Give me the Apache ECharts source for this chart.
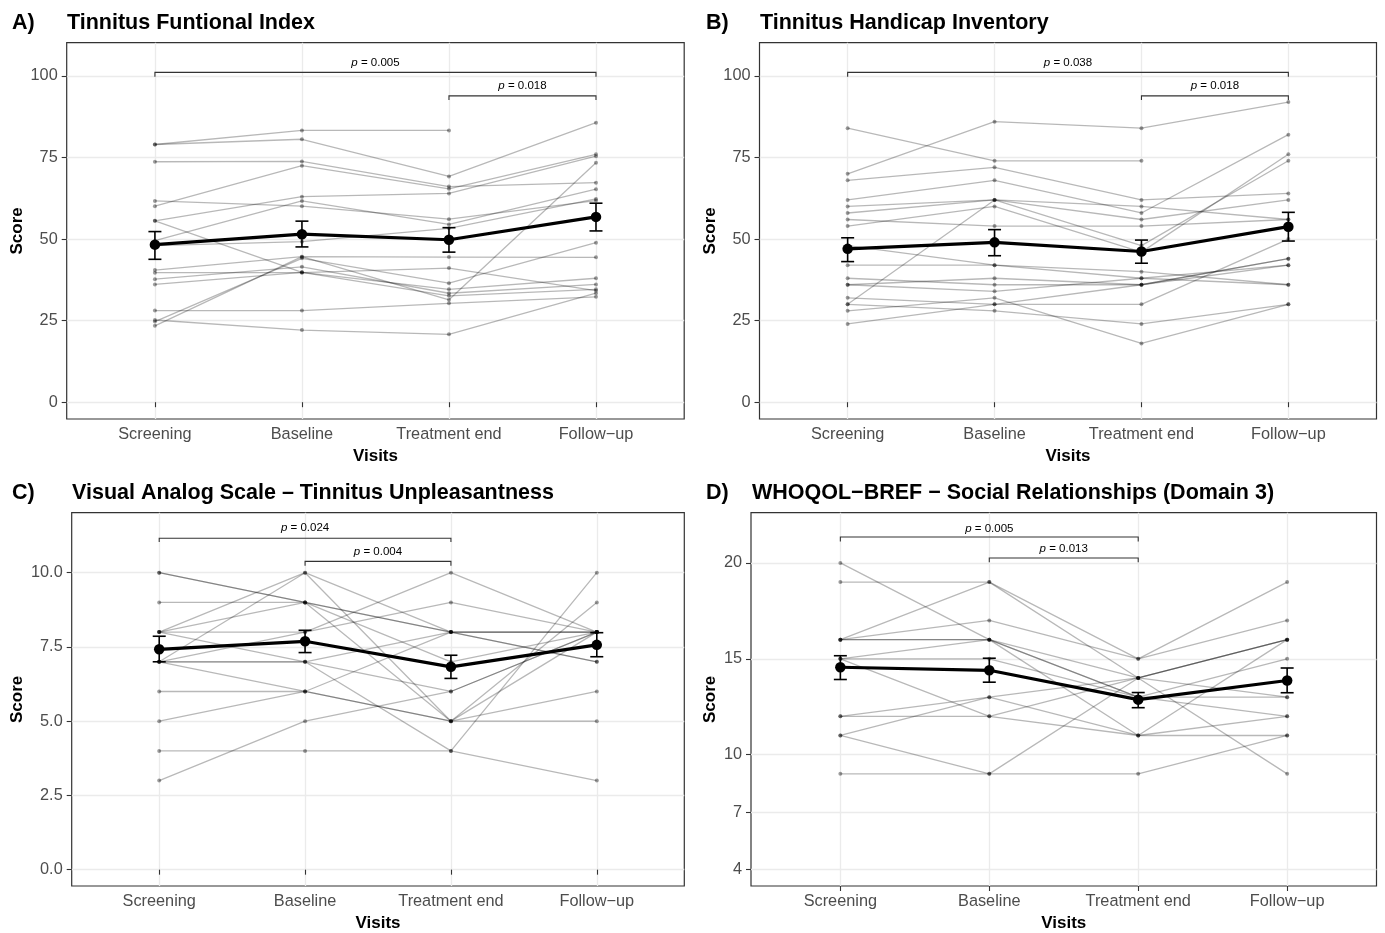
<!DOCTYPE html>
<html>
<head>
<meta charset="utf-8">
<title>Tinnitus outcomes by visit</title>
<script src="https://cdn.jsdelivr.net/npm/echarts@6/dist/echarts.min.js"></script>
<style>
  html, body { margin: 0; padding: 0; background: #fff; }
  #chart { width: 1385px; height: 933px; }
</style>
</head>
<body>
<div id="chart"></div>
<script>
const visits = ['Screening', 'Baseline', 'Treatment end', 'Follow\u2212up'];

// A) Tinnitus Functional Index - one row per participant
const tfiSubjects = [
    [79.0, 83.3, 83.3, null],
    [79.0, 80.6, 69.2, 85.7],
    [73.7, 73.8, 66.1, 67.3],
    [60.1, 72.5, 65.4, 76.0],
    [61.7, 60.1, 56.1, 61.8],
    [55.6, 63.0, 64.0, 75.4],
    [55.6, 39.8, 34.6, 38.0],
    [49.5, 61.7, 54.5, 65.3],
    [48.0, 49.2, 53.3, 62.3],
    [40.5, 44.6, 44.5, 44.4],
    [39.7, 39.7, 41.1, 34.2],
    [37.7, 41.5, 33.4, 36.1],
    [36.1, 39.8, 32.6, 34.6],
    [28.1, 28.1, 30.3, 32.3],
    [24.7, 44.1, 36.5, 48.9],
    [23.4, 44.6, 31.4, 73.4],
    [25.2, 22.1, 20.8, 33.4]
];
const tfiMean = [48.3, 51.5, 49.8, 56.8];
const tfiLow = [43.8, 47.6, 46.0, 52.5];
const tfiHigh = [52.3, 55.5, 53.5, 61.0];
const tfiTicks = [0, 25, 50, 75, 100];
const tfiPairs = [[1, 4, '0.005'], [3, 4, '0.018']];

// B) Tinnitus Handicap Inventory
const thiSubjects = [
    [84, 74, 74, null],
    [70, 86, 84, 92],
    [68, 72, 62, 64],
    [62, 68, 58, 82],
    [60, 62, 56, 62],
    [58, 62, 60, 56],
    [56, 54, 54, 56],
    [54, 60, 46, 76],
    [30, 62, 48, 74],
    [48, 42, 38, 36],
    [42, 42, 40, 36],
    [38, 36, 36, 42],
    [36, 38, 36, 44],
    [36, 34, 38, 42],
    [32, 30, 30, 50],
    [30, 28, 24, 30],
    [28, 32, 18, 30],
    [24, 30, 36, 44]
];
const thiMean = [47.0, 49.0, 46.2, 53.8];
const thiLow = [43.1, 44.9, 42.6, 49.4];
const thiHigh = [50.4, 52.9, 49.7, 58.2];
const thiTicks = [0, 25, 50, 75, 100];
const thiPairs = [[1, 4, '0.038'], [3, 4, '0.018']];

// C) Visual Analog Scale - Tinnitus Unpleasantness
const vasSubjects = [
    [10, 9, 5, 8],
    [10, 9, 8, 7],
    [9, 9, 8, 8],
    [8, 10, 8, 7],
    [8, 9, 7, 8],
    [8, 8, 10, 8],
    [7, 7, 6, 8],
    [7, 8, 9, 8],
    [7, 6, 5, 6],
    [7, 7, 8, 8],
    [6, 6, 5, 5],
    [5, 6, 8, 8],
    [4, 4, 4, 3],
    [3, 5, 6, 8],
    [7, 10, 5, 9],
    [8, 7, 4, 10]
];
const vasMean = [7.42, 7.69, 6.83, 7.57];
const vasLow = [7.00, 7.31, 6.44, 7.17];
const vasHigh = [7.86, 8.06, 7.22, 7.98];
const vasTicks = [0, 2.5, 5, 7.5, 10];
const vasPairs = [[1, 3, '0.024'], [2, 3, '0.004']];

// D) WHOQOL-BREF - Social Relationships (Domain 3)
const whoSubjects = [
    [20, 16, 13, 12],
    [19, 19, 15, 17],
    [16, 19, 14, 16],
    [16, 17, 15, 19],
    [16, 16, 14, 16],
    [16, 16, 11, 16],
    [15, 15, 13, 15],
    [15, 12, 14, 13],
    [12, 13, 11, 12],
    [12, 12, 11, 11],
    [11, 13, 14, 16],
    [11, 9, 9, 11],
    [9, 9, 14, 9],
    [15, 16, 13, 13]
];
const whoMean = [14.56, 14.40, 12.87, 13.87];
const whoLow = [13.92, 13.78, 12.45, 13.23];
const whoHigh = [15.16, 15.03, 13.24, 14.52];
const whoTicks = [4, 7, 10, 15, 20];
const whoPairs = [[1, 3, '0.005'], [2, 3, '0.013']];

const FONT = '"Liberation Sans", Arial, Helvetica, sans-serif';

// layout of the four facets (pixel boxes, axis ranges, bracket heights in data units)
const panels = [
    {
        tag: 'A)', title: 'Tinnitus Funtional Index',
        subjects: tfiSubjects, mean: tfiMean, low: tfiLow, high: tfiHigh, ticks: tfiTicks, pairs: tfiPairs,
        grid: { left: 66.7, top: 42.7, width: 617.5, height: 376.3 },
        yMin: -5.15, yMax: 110.2, digits: 0, nameGap: 41,
        levels: [[101.1, 99.8, 104.0], [93.9, 92.6, 96.9]],
        tagX: 12, titleX: 67, titleY: 12
    },
    {
        tag: 'B)', title: 'Tinnitus Handicap Inventory',
        subjects: thiSubjects, mean: thiMean, low: thiLow, high: thiHigh, ticks: thiTicks, pairs: thiPairs,
        grid: { left: 759.5, top: 42.7, width: 617, height: 376.3 },
        yMin: -5.15, yMax: 110.2, digits: 0, nameGap: 41,
        levels: [[101.1, 99.8, 104.0], [93.9, 92.6, 96.9]],
        tagX: 706, titleX: 760, titleY: 12
    },
    {
        tag: 'C)', title: 'Visual Analog Scale \u2013 Tinnitus Unpleasantness',
        subjects: vasSubjects, mean: vasMean, low: vasLow, high: vasHigh, ticks: vasTicks, pairs: vasPairs,
        grid: { left: 71.7, top: 512.7, width: 612.6, height: 375.8 },
        yMin: -0.55, yMax: 12.02, digits: 1, nameGap: 46,
        levels: [[11.16, 11.03, 11.5], [10.38, 10.23, 10.69]],
        tagX: 12, titleX: 72, titleY: 482
    },
    {
        tag: 'D)', title: 'WHOQOL\u2212BREF \u2212 Social Relationships (Domain 3)',
        subjects: whoSubjects, mean: whoMean, low: whoLow, high: whoHigh, ticks: whoTicks, pairs: whoPairs,
        grid: { left: 751, top: 512.7, width: 625.5, height: 375.8 },
        yMin: 3.15, yMax: 22.62, digits: 0, nameGap: 32,
        levels: [[21.35, 21.12, 21.8], [20.26, 20.03, 20.73]],
        tagX: 706, titleX: 752, titleY: 482
    }
];

function errorBarItem(params, api) {
    const x = api.value(0);
    const top = api.coord([x, api.value(2)]);
    const bot = api.coord([x, api.value(1)]);
    const half = 6.5;
    const style = { stroke: '#000', lineWidth: 1.6 };
    return {
        type: 'group',
        children: [
            { type: 'line', shape: { x1: top[0], y1: top[1], x2: bot[0], y2: bot[1] }, style },
            { type: 'line', shape: { x1: top[0] - half, y1: top[1], x2: top[0] + half, y2: top[1] }, style },
            { type: 'line', shape: { x1: bot[0] - half, y1: bot[1], x2: bot[0] + half, y2: bot[1] }, style }
        ]
    };
}

function makeBracketItem(pairs) {
    return function (params, api) {
        const x1 = api.value(0), x2 = api.value(1);
        const a = api.coord([x1, api.value(3)]);
        const b = api.coord([x1, api.value(2)]);
        const c = api.coord([x2, api.value(2)]);
        const d = api.coord([x2, api.value(3)]);
        const t = api.coord([(x1 + x2) / 2, api.value(4)]);
        return {
            type: 'group',
            children: [
                {
                    type: 'polyline',
                    shape: { points: [a, b, c, d] },
                    style: { stroke: '#333', lineWidth: 1.1, fill: 'none' }
                },
                {
                    type: 'text',
                    x: t[0],
                    y: t[1],
                    style: {
                        text: '{i|p} = ' + pairs[params.dataIndex][2],
                        align: 'center',
                        verticalAlign: 'middle',
                        fontFamily: FONT,
                        fontSize: 11.5,
                        fill: '#000',
                        rich: { i: { fontStyle: 'italic', fontFamily: FONT, fontSize: 11.5, fill: '#000' } }
                    }
                }
            ]
        };
    };
}

const grids = [];
const xAxes = [];
const yAxes = [];
const titles = [];
const series = [];

panels.forEach((p, i) => {
    grids.push({
        left: p.grid.left, top: p.grid.top, width: p.grid.width, height: p.grid.height,
        show: true, borderColor: '#333', borderWidth: 1.2, backgroundColor: 'transparent'
    });

    xAxes.push({
        type: 'value', gridIndex: i, min: 0.4, max: 4.6,
        axisLine: { show: false },
        axisTick: { show: true, customValues: [1, 2, 3, 4], length: 5, lineStyle: { color: '#333', width: 1.1 } },
        axisLabel: {
            customValues: [1, 2, 3, 4], margin: 8,
            formatter: v => visits[Math.round(v) - 1],
            color: '#4d4d4d', fontSize: 16.3, fontFamily: FONT
        },
        splitLine: { show: true, lineStyle: { color: '#ebebeb', width: 1.3 } },
        name: 'Visits', nameLocation: 'middle', nameGap: 29,
        nameTextStyle: { fontFamily: FONT, fontWeight: 'bold', fontSize: 17, color: '#000' }
    });

    yAxes.push({
        type: 'value', gridIndex: i, min: p.yMin, max: p.yMax,
        axisLine: { show: false },
        axisTick: { show: true, customValues: p.ticks, length: 5, lineStyle: { color: '#333', width: 1.1 } },
        axisLabel: {
            customValues: p.ticks, margin: 9,
            formatter: v => v.toFixed(p.digits),
            color: '#4d4d4d', fontSize: 16.3, fontFamily: FONT
        },
        splitLine: { show: true, lineStyle: { color: '#ebebeb', width: 1.3 } },
        name: 'Score', nameLocation: 'middle', nameGap: p.nameGap,
        nameTextStyle: { fontFamily: FONT, fontWeight: 'bold', fontSize: 17, color: '#000' }
    });

    const titleStyle = { fontFamily: FONT, fontWeight: 'bold', fontSize: 21.5, color: '#000' };
    titles.push({ text: p.tag, left: p.tagX, top: p.titleY, padding: 0, textStyle: titleStyle });
    titles.push({ text: p.title, left: p.titleX, top: p.titleY, padding: 0, textStyle: titleStyle });

    // individual participants
    p.subjects.forEach(row => {
        series.push({
            type: 'line', xAxisIndex: i, yAxisIndex: i,
            data: row.map((v, j) => [j + 1, v == null ? '-' : v]),
            symbol: 'circle', symbolSize: 4, showSymbol: true,
            lineStyle: { color: 'rgba(0,0,0,0.28)', width: 1.3 },
            itemStyle: { color: 'rgba(0,0,0,0.38)' },
            silent: true, z: 2
        });
    });

    // group mean
    series.push({
        type: 'line', xAxisIndex: i, yAxisIndex: i,
        data: p.mean.map((v, j) => [j + 1, v]),
        symbol: 'circle', symbolSize: 10.5,
        lineStyle: { color: '#000', width: 3.2 },
        itemStyle: { color: '#000' },
        silent: true, z: 5
    });

    series.push({
        type: 'custom', xAxisIndex: i, yAxisIndex: i,
        data: p.mean.map((v, j) => [j + 1, p.low[j], p.high[j]]),
        encode: { x: 0, y: [1, 2] },
        renderItem: errorBarItem,
        silent: true, z: 6
    });

    // significance brackets
    series.push({
        type: 'custom', xAxisIndex: i, yAxisIndex: i,
        data: p.pairs.map((pr, k) => [pr[0], pr[1], p.levels[k][0], p.levels[k][1], p.levels[k][2]]),
        encode: { x: [0, 1], y: [2, 3, 4] },
        renderItem: makeBracketItem(p.pairs),
        silent: true, z: 4
    });
});

const chart = echarts.init(document.getElementById('chart'));
chart.setOption({
    animation: false,
    backgroundColor: '#fff',
    title: titles,
    grid: grids,
    xAxis: xAxes,
    yAxis: yAxes,
    series: series
});

window.addEventListener('resize', () => chart.resize());
</script>
</body>
</html>
